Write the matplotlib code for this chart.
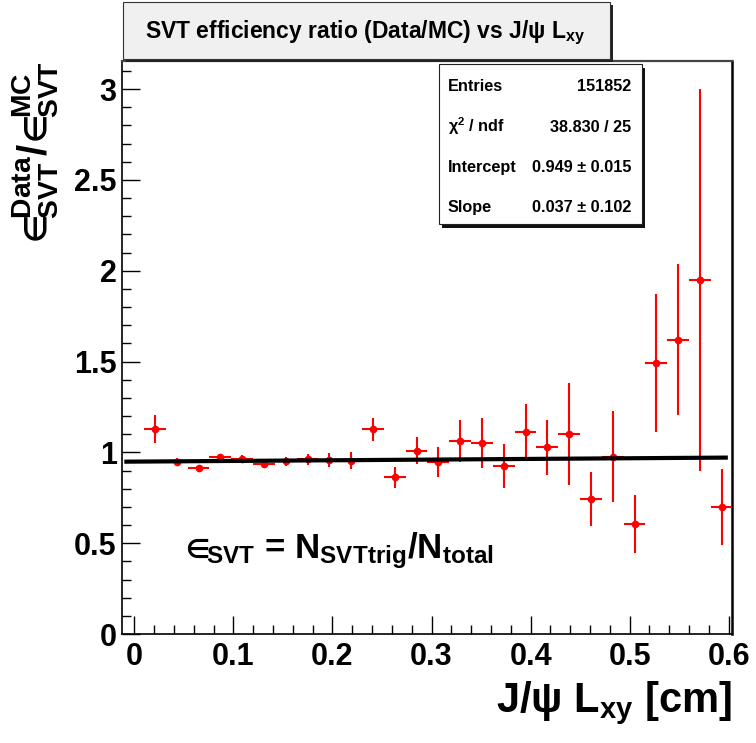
import numpy as np
import matplotlib
matplotlib.use("Agg")
from matplotlib import pyplot as plt
from matplotlib.patches import Rectangle
from matplotlib.ticker import MultipleLocator
from matplotlib.transforms import blended_transform_factory

plt.rcParams["font.family"] = ["Liberation Sans", "DejaVu Sans"]
plt.rcParams["font.weight"] = "bold"
plt.rcParams["mathtext.fontset"] = "custom"
plt.rcParams["mathtext.rm"] = "Liberation Sans:bold"
plt.rcParams["mathtext.it"] = "Liberation Sans:bold"
plt.rcParams["mathtext.bf"] = "Liberation Sans:bold"
plt.rcParams["mathtext.sf"] = "Liberation Sans"
plt.rcParams["mathtext.fallback"] = "stixsans"

# bin centres of J/psi Lxy [cm] (bin width 0.022)
lxy = [0.0209, 0.0429, 0.0649, 0.0869, 0.1089, 0.1309, 0.1529, 0.1749, 0.1969,
       0.2189, 0.2409, 0.2629, 0.2849, 0.3069, 0.3289, 0.3509, 0.3729, 0.3949,
       0.4169, 0.4389, 0.4609, 0.4829, 0.5049, 0.5269, 0.5489, 0.5709, 0.5929]
half_bin = 0.011
ratio = [1.127, 0.948, 0.912, 0.976, 0.965, 0.936, 0.950, 0.963, 0.958,
         0.954, 1.127, 0.862, 1.009, 0.948, 1.064, 1.053, 0.925, 1.113,
         1.027, 1.102, 0.743, 0.976, 0.604, 1.490, 1.620, 1.950, 0.700]
ratio_err = [0.078, 0.020, 0.010, 0.015, 0.020, 0.020, 0.027, 0.030, 0.038,
             0.048, 0.064, 0.058, 0.075, 0.084, 0.115, 0.137, 0.120, 0.151,
             0.151, 0.280, 0.151, 0.252, 0.160, 0.380, 0.416, 1.050, 0.209]

# straight-line fit result
intercept, intercept_err = 0.949, 0.015
slope, slope_err = 0.037, 0.102
fit_range = [-0.008, 0.597]
entries = 151852
chi2, ndf = 38.830, 25

W, H = 756, 743


def fx(px):
    return px / W


def fy(py):
    return 1 - py / H


fig = plt.figure(figsize=(W / 100, H / 100), dpi=100)
ax = fig.add_axes([fx(122.3), fy(634), (732 - 122.3) / W, (634 - 60.7) / H])

ax.errorbar(lxy, ratio, xerr=half_bin, yerr=ratio_err, fmt="o", color="red",
            ms=4.5, elinewidth=1.5, capsize=0, zorder=3)

xf = np.linspace(fit_range[0], fit_range[1], 2)
ax.plot(xf, intercept + slope * xf, color="black", lw=3.0, zorder=4)

ax.set_xlim(-0.0121, 0.6033)
ax.set_ylim(0, 3.156)
ax.xaxis.set_minor_locator(MultipleLocator(0.02))
ax.yaxis.set_minor_locator(MultipleLocator(0.1))
ax.set_xticks([0, 0.1, 0.2, 0.3, 0.4, 0.5, 0.6])
ax.set_xticklabels(["0", "0.1", "0.2", "0.3", "0.4", "0.5", "0.6"])
ax.set_yticks([0, 0.5, 1, 1.5, 2, 2.5, 3])
ax.set_yticklabels(["0", "0.5", "1", "1.5", "2", "2.5", "3"])
ax.tick_params(which="both", direction="in", top=False, right=False, width=1.0)
ax.tick_params(which="major", length=13)
ax.tick_params(which="minor", length=6.5)
ax.tick_params(axis="x", which="major", pad=6, labelsize=22)
ax.tick_params(axis="y", which="major", pad=4, labelsize=22)

ax.spines["left"].set_linewidth(1.2)
ax.spines["bottom"].set_linewidth(1.2)
ax.spines["top"].set_linewidth(1.6)
ax.spines["top"].set_color("#444444")
ax.spines["right"].set_linewidth(1.8)

# axis titles (ROOT style, aligned to the axis end)
ax.text(1.0, fy(711.7), r"J/$\mathsf{\psi}$ L$_{xy}$ [cm]",
        transform=blended_transform_factory(ax.transAxes, fig.transFigure),
        fontsize=30, ha="right", va="baseline")
ax.text((60 - 122.3) / 609.7, 1.0, r"$\in\!\!^{Data}_{SVT}/\!\in\!\!^{MC}_{SVT}$",
        transform=ax.transAxes, fontsize=29, rotation=90, rotation_mode="anchor",
        ha="right", va="bottom")

ax.text((178 - 122.3) / 609.7, (634 - 558) / 573.3,
        r"$\in\!\!_{SVT}$ = N$_{SVTtrig}$/N$_{total}$", transform=ax.transAxes,
        fontsize=25, ha="left", va="baseline")

# title box
fig.add_artist(Rectangle((fx(126), fy(62)), (610 - 123) / W, (62 - 5) / H,
                         transform=fig.transFigure, facecolor="#222222",
                         edgecolor="none", zorder=5))
fig.add_artist(Rectangle((fx(123), fy(59)), (610 - 123) / W, (59 - 2) / H,
                         transform=fig.transFigure, facecolor="#f0f0f0",
                         edgecolor="#333333", lw=0.8, zorder=6))
fig.text(fx(365), fy(37.7), r"SVT efficiency ratio (Data/MC) vs J/$\mathsf{\psi}$ L$_{xy}$",
         fontsize=16.5, ha="center", va="baseline", zorder=7)

# stats box
fig.add_artist(Rectangle((fx(442), fy(227.5)), (641.7 - 439) / W, (224.3 - 64.3) / H,
                         transform=fig.transFigure, facecolor="#111111",
                         edgecolor="none", zorder=5))
fig.add_artist(Rectangle((fx(439), fy(224.3)), (641.7 - 439) / W, (224.3 - 64.3) / H,
                         transform=fig.transFigure, facecolor="white",
                         edgecolor="#222222", lw=0.8, zorder=6))
stat_rows = [
    ("Entries", f"{entries}"),
    (r"$\mathsf{\chi}^{2}$ / ndf", f"{chi2:.3f} / {ndf}"),
    ("Intercept", f"{intercept:.3f} \u00b1 {intercept_err:.3f}"),
    ("Slope", f"{slope:.3f} \u00b1 {slope_err:.3f}"),
]
row_base = [90.7, 131.7, 172.3, 211.7]
for (lab, val), yb in zip(stat_rows, row_base):
    fig.text(fx(448), fy(yb), lab, fontsize=11.7, ha="left", va="baseline", zorder=7)
    fig.text(fx(631), fy(yb), val, fontsize=11.7, ha="right", va="baseline", zorder=7)

fig.savefig("out.png", dpi=100)
